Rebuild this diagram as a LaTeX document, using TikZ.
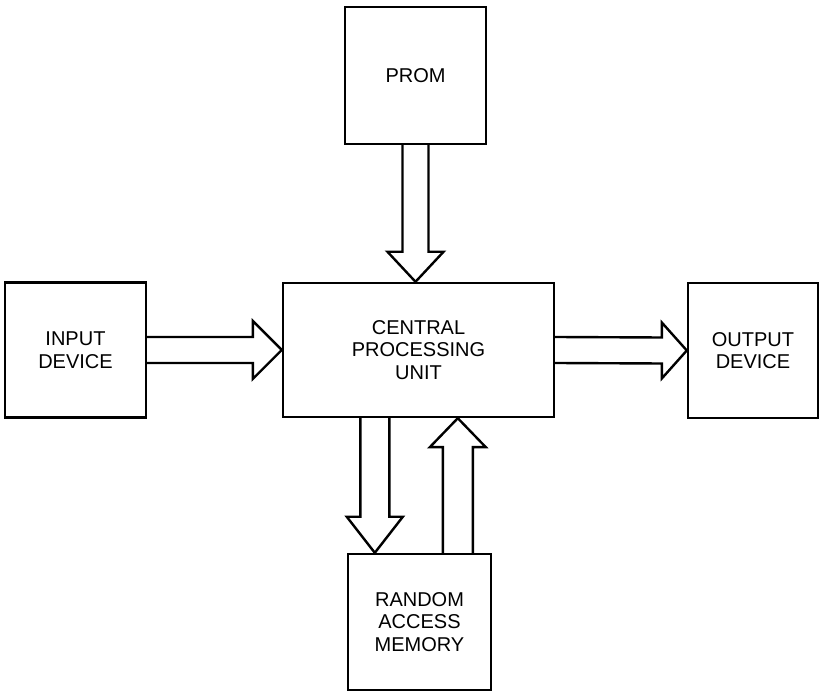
\documentclass[tikz,border=0pt]{standalone}
\usepackage{fontspec}
\setmainfont{Liberation Sans}
\usetikzlibrary{calc}
\begin{document}
\begin{tikzpicture}[x=1pt,y=-1pt,line width=2.4pt,line join=miter,
  box/.style={draw,rectangle,inner sep=0pt,align=center,
    font=\fontsize{20}{22.5}\selectfont},
  blockarrow/.style={draw,line width=2.4pt}]
\useasboundingbox (0,0) rectangle (820,692);
% boxes
\node[box,minimum width=141pt,minimum height=137pt] (prom) at (415.5,75.5) {PROM};
\node[box,minimum width=271pt,minimum height=134pt] (cpu) at (418.5,350) {CENTRAL\\PROCESSING\\UNIT};
\node[box,minimum width=141pt,minimum height=135pt] (inp) at (75.5,350) {INPUT\\DEVICE};
\node[box,minimum width=130pt,minimum height=135pt] (out) at (753,350.5) {OUTPUT\\DEVICE};
\node[box,minimum width=143pt,minimum height=136pt] (ram) at (419.5,622) {RANDOM\\ACCESS\\MEMORY};
% tip points
\coordinate (ptip) at (cpu.north -| prom.south);
\coordinate (dtip) at ($(ram.north west)+(28,0)$);
\coordinate (dsrc) at (cpu.south -| dtip);
\coordinate (utip0) at ($(ram.north west)+(111,0)$);
\coordinate (utip) at (cpu.south -| utip0);
% PROM -> CPU
\draw[blockarrow] ($(prom.south)+(-13,0)$) -- ($(ptip)+(-13,-30)$) -- ($(ptip)+(-28,-30)$)
  -- (ptip) -- ($(ptip)+(28,-30)$) -- ($(ptip)+(13,-30)$) -- ($(prom.south)+(13,0)$);
% INPUT -> CPU
\draw[blockarrow] ($(inp.east)+(0,-13)$) -- ($(cpu.west)+(-29,-13)$) -- ($(cpu.west)+(-29,-29)$)
  -- (cpu.west) -- ($(cpu.west)+(-29,29)$) -- ($(cpu.west)+(-29,13)$) -- ($(inp.east)+(0,13)$);
% CPU -> OUTPUT
\draw[blockarrow] ($(cpu.east)+(0,-13)$) -- ($(out.west)+(-25,-13)$) -- ($(out.west)+(-25,-28)$)
  -- (out.west) -- ($(out.west)+(-25,28)$) -- ($(out.west)+(-25,13)$) -- ($(cpu.east)+(0,13)$);
% CPU -> RAM
\draw[blockarrow] ($(dsrc)+(-14.5,0)$) -- ($(dtip)+(-14.5,-36)$) -- ($(dtip)+(-28,-36)$)
  -- (dtip) -- ($(dtip)+(28,-36)$) -- ($(dtip)+(14.5,-36)$) -- ($(dsrc)+(14.5,0)$);
% RAM -> CPU
\draw[blockarrow] ($(utip0)+(-15,0)$) -- ($(utip)+(-15,29)$) -- ($(utip)+(-28,29)$)
  -- (utip) -- ($(utip)+(28,29)$) -- ($(utip)+(15,29)$) -- ($(utip0)+(15,0)$);
\end{tikzpicture}
\end{document}
